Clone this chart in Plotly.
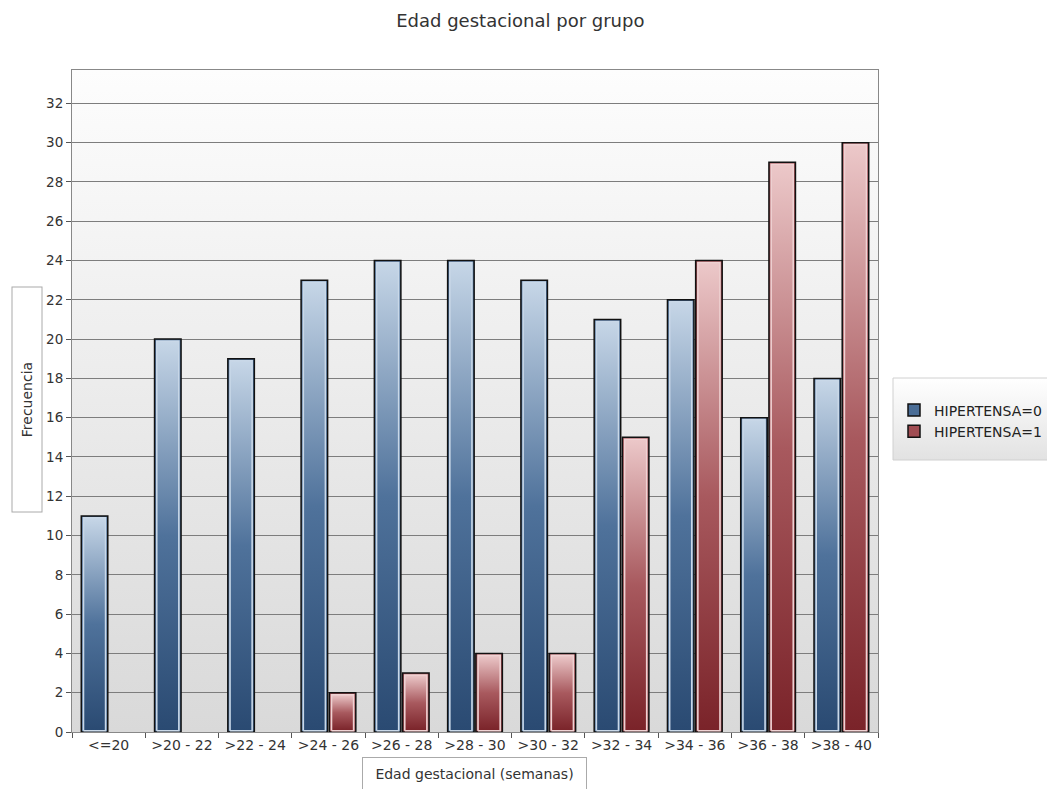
import base64
import plotly.graph_objects as go

# Gestational age groups (weeks) and frequencies per hypertension group
categorias = ["<=20", ">20 - 22", ">22 - 24", ">24 - 26", ">26 - 28", ">28 - 30",
              ">30 - 32", ">32 - 34", ">34 - 36", ">36 - 38", ">38 - 40"]
hipertensa_0 = [11, 20, 19, 23, 24, 24, 23, 21, 22, 16, 18]
hipertensa_1 = [0, 0, 0, 2, 3, 4, 4, 15, 24, 29, 30]
series_nombres = ["HIPERTENSA=0", "HIPERTENSA=1"]
y_ticks = list(range(0, 33, 2))

FONT = "DejaVu Sans"
Y_MAX = 33.7
BARGAP = 0.23
BARGROUPGAP = 0.06

estilos = [
    dict(mid="#4a6d96", pale="#c9d8e8",
         scale=[[0, "#2a4a72"], [0.5, "#4f729b"], [1, "#c6d6e7"]]),
    dict(mid="#a04c52", pale="#efd2d3",
         scale=[[0, "#7a2329"], [0.5, "#a8595e"], [1, "#ecc8c9"]]),
]

fig = go.Figure()

# Base bars: black outline, carry the data and the legend
for nombre, valores, est in zip(series_nombres, [hipertensa_0, hipertensa_1], estilos):
    fig.add_trace(go.Bar(
        x=categorias, y=[v if v else None for v in valores], name=nombre,
        marker=dict(color=est["mid"], line=dict(color="#111111", width=1.5)),
        hoverinfo="x+y+name",
    ))

# Vertical gradient fill inside each bar, drawn on an overlaid numeric axis
n_series = 2
slot = (1 - BARGAP) / n_series
ancho = slot * (1 - BARGROUPGAP)
inset_x = 0.03
inset_y = 0.1
for s, (valores, est) in enumerate(zip([hipertensa_0, hipertensa_1], estilos)):
    for i, v in enumerate(valores):
        if not v:
            continue
        centro = i - (1 - BARGAP) / 2 + slot * (s + 0.5)
        x0 = centro - ancho / 2 + inset_x
        x1 = centro + ancho / 2 - inset_x
        y0 = 0.06
        y1 = v - inset_y
        fig.add_trace(go.Scatter(
            x=[x0, x1, x1, x0, x0], y=[y0, y0, y1, y1, y0],
            xaxis="x2", mode="lines", fill="toself",
            line=dict(color=est["pale"], width=1.6),
            fillgradient=dict(type="vertical", colorscale=est["scale"]),
            showlegend=False, hoverinfo="skip",
        ))

# Plot area background: white at the top fading to light grey
svg = ('<svg xmlns="http://www.w3.org/2000/svg" width="100" height="100" preserveAspectRatio="none">'
       '<defs><linearGradient id="g" x1="0" y1="0" x2="0" y2="1">'
       '<stop offset="0" stop-color="#fdfdfd"/><stop offset="1" stop-color="#d9d9d9"/>'
       '</linearGradient></defs><rect width="100" height="100" fill="url(#g)"/></svg>')
bg_src = "data:image/svg+xml;base64," + base64.b64encode(svg.encode()).decode()

legend_svg = ('<svg xmlns="http://www.w3.org/2000/svg" width="100" height="100" preserveAspectRatio="none">'
              '<defs><linearGradient id="g" x1="0" y1="0" x2="0" y2="1">'
              '<stop offset="0" stop-color="#ffffff"/><stop offset="1" stop-color="#e2e2e2"/>'
              '</linearGradient></defs><rect width="100" height="100" fill="url(#g)"/></svg>')
legend_src = "data:image/svg+xml;base64," + base64.b64encode(legend_svg.encode()).decode()

fig.update_layout(
    width=1047, height=789,
    margin=dict(l=72, r=169, t=70, b=57, autoexpand=False),
    paper_bgcolor="white",
    plot_bgcolor="rgba(0,0,0,0)",
    barmode="group", bargap=BARGAP, bargroupgap=BARGROUPGAP,
    font=dict(family=FONT, size=14, color="#333333"),
    title=dict(text="Edad gestacional por grupo", x=0.497, xref="container", xanchor="center",
               y=1 - 21 / 789, yanchor="middle",
               font=dict(family=FONT, size=18, color="#333333")),
    xaxis=dict(
        type="category", range=[-0.5, len(categorias) - 0.5],
        tickson="boundaries", ticks="outside", ticklen=5, tickcolor="#555555",
        showline=True, linecolor="#888888", linewidth=1, mirror=True,
        showgrid=False, tickfont=dict(family=FONT, size=14, color="#333333"),
        fixedrange=True,
    ),
    xaxis2=dict(overlaying="x", range=[-0.5, len(categorias) - 0.5], visible=False,
                fixedrange=True),
    yaxis=dict(
        range=[0, Y_MAX], tickvals=y_ticks, ticks="outside", ticklen=5, tickcolor="#555555",
        showline=True, linecolor="#888888", linewidth=1, mirror=True,
        showgrid=True, gridcolor="#7d7d7d", gridwidth=1, zeroline=False,
        tickfont=dict(family=FONT, size=13.5, color="#333333"), fixedrange=True,
    ),
    legend=dict(
        x=(894 - 72) / 806, xanchor="left", y=(732 - 421) / 662, yanchor="middle",
        bgcolor="rgba(0,0,0,0)", borderwidth=0,
        font=dict(family=FONT, size=14, color="#222222"),
        itemwidth=30, tracegroupgap=0,
    ),
    images=[
        dict(source=bg_src, xref="paper", yref="paper", x=0, y=1, sizex=1, sizey=1,
             xanchor="left", yanchor="top", sizing="stretch", layer="below"),
        dict(source=legend_src, xref="paper", yref="paper", x=(893 - 72) / 806,
             y=(732 - 378) / 662, sizex=(1047 - 893) / 806, sizey=82 / 662,
             xanchor="left", yanchor="top", sizing="stretch", layer="below"),
    ],
    shapes=[
        dict(type="rect", xref="paper", yref="paper",
             x0=(893 - 72) / 806, x1=(1050 - 72) / 806,
             y0=(732 - 460) / 662, y1=(732 - 378) / 662,
             line=dict(color="#d0d0d0", width=1), layer="below"),
    ],
    annotations=[
        dict(text="Frecuencia", textangle=-90, xref="paper", yref="paper",
             x=(26.5 - 72) / 806, y=(732 - 400) / 662, xanchor="center", yanchor="middle",
             showarrow=False, width=224, height=29, borderpad=0,
             bordercolor="#aaaaaa", borderwidth=1, bgcolor="white",
             font=dict(family=FONT, size=14, color="#333333")),
        dict(text="Edad gestacional (semanas)", xref="paper", yref="paper",
             x=(474.5 - 72) / 806, y=(732 - 774) / 662, xanchor="center", yanchor="middle",
             showarrow=False, width=223, height=32, borderpad=0,
             bordercolor="#aaaaaa", borderwidth=1, bgcolor="white",
             font=dict(family=FONT, size=14, color="#333333")),
    ],
)

fig.write_html("out.html")
